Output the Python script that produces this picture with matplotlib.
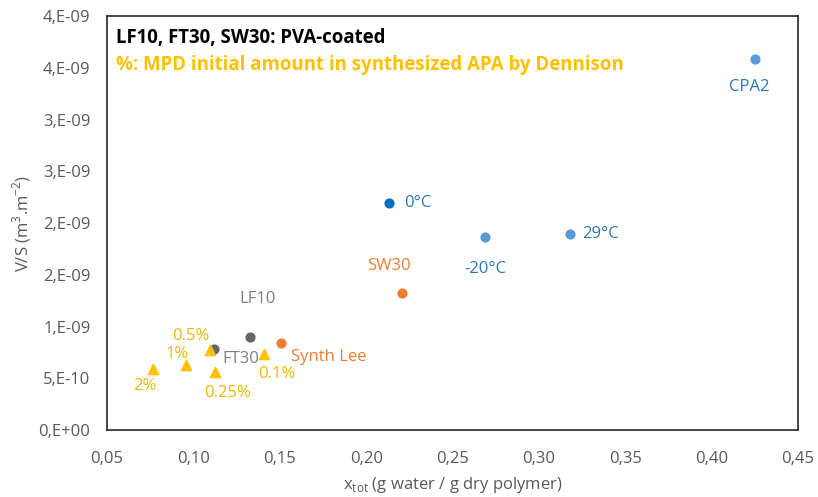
"""Scatter of V/S against x_tot for the coated and synthesized membranes."""
import math

import matplotlib
matplotlib.use('Agg')
import matplotlib.pyplot as plt
from matplotlib.ticker import FuncFormatter

plt.rcParams['font.family'] = ['Open Sans', 'DejaVu Sans']

# CPA2 family (light blue)
cpa_labels = ['CPA2', '-20°C', '29°C']
cpa_x = [0.425, 0.269, 0.318]
cpa_y = [3.58e-9, 1.86e-9, 1.89e-9]

# 0°C point (dark blue)
zero_x = [0.213]
zero_y = [2.19e-9]

# Orange points
orange_labels = ['SW30', 'Synth Lee']
orange_x = [0.221, 0.151]
orange_y = [1.32e-9, 0.84e-9]

# Gray points
gray_labels = ['LF10', 'FT30']
gray_x = [0.133, 0.112]
gray_y = [0.90e-9, 0.78e-9]

# Dennison APA (yellow triangles)
apa_labels = ['2%', '1%', '0.5%', '0.25%', '0.1%']
apa_x = [0.0765, 0.0955, 0.1095, 0.1125, 0.141]
apa_y = [0.59e-9, 0.63e-9, 0.77e-9, 0.56e-9, 0.73e-9]

x_ticks = [0.05, 0.10, 0.15, 0.20, 0.25, 0.30, 0.35, 0.40, 0.45]
y_ticks = [0, 0.5e-9, 1.0e-9, 1.5e-9, 2.0e-9, 2.5e-9, 3.0e-9, 3.5e-9, 4.0e-9]

LIGHT_BLUE = '#5B9BD5'
DARK_BLUE = '#0070C0'
TEXT_BLUE = '#2E75B6'
ORANGE = '#ED7D31'
GRAY = '#666666'
GRAY_TEXT = '#7F7F7F'
YELLOW = '#FFC000'


def excel_sci(v, pos):
    """ Mimic Excel's 0,E+00 number format (round half up). """
    if abs(v) < 1e-20:
        return '0,E+00'
    exp = math.floor(math.log10(abs(v)) + 1e-9)
    mant = int(math.floor(round(v / 10**exp, 6) + 0.5))
    if mant >= 10:
        mant //= 10
        exp += 1
    sign = '+' if exp >= 0 else '-'
    return f'{mant},E{sign}{abs(exp):02d}'


def main():
    fig = plt.figure(figsize=(8.18, 4.97), dpi=100)
    ax = fig.add_axes([0.1308, 0.1348, 0.8448, 0.833])

    ax.scatter(cpa_x, cpa_y, s=40, color=LIGHT_BLUE, zorder=3)
    ax.scatter(zero_x, zero_y, s=40, color=DARK_BLUE, zorder=3)
    ax.scatter(orange_x, orange_y, s=40, color=ORANGE, zorder=3)
    ax.scatter(gray_x, gray_y, s=40, color=GRAY, zorder=3)
    ax.scatter(apa_x, apa_y, s=55, marker='^', color=YELLOW, zorder=3)

    fs = 12
    # Point labels, offsets in points
    offsets = {
        'CPA2': (-4, -20), '-20°C': (0, -23), '29°C': (22, 0),
        'SW30': (-10, 20), 'Synth Lee': (34, -10),
        'LF10': (5, 27), 'FT30': (19, -7),
        '2%': (-6, -12), '1%': (-6, 8), '0.5%': (-14, 10),
        '0.25%': (9, -15), '0.1%': (9, -14),
    }

    def label(names, xs, ys, color):
        for n, x, y in zip(names, xs, ys):
            dx, dy = offsets[n]
            ax.annotate(n, (x, y), xytext=(dx, dy), textcoords='offset points',
                        ha='center', va='center', color=color, fontsize=fs)

    label(cpa_labels, cpa_x, cpa_y, TEXT_BLUE)
    ax.annotate('0°C', (zero_x[0], zero_y[0]), xytext=(21, 0),
                textcoords='offset points', ha='center', va='center',
                color=TEXT_BLUE, fontsize=fs)
    label(orange_labels, orange_x, orange_y, ORANGE)
    label(gray_labels, gray_x, gray_y, GRAY_TEXT)
    label(apa_labels, apa_x, apa_y, '#F2B705')

    ax.text(0.013, 0.947, 'LF10, FT30, SW30: PVA-coated', transform=ax.transAxes,
            fontsize=13.4, fontweight='bold', color='black', va='center')
    ax.text(0.013, 0.882, '%: MPD initial amount in synthesized APA by Dennison',
            transform=ax.transAxes, fontsize=13.4, fontweight='bold',
            color=YELLOW, va='center')

    ax.set_xlim(0.05, 0.45)
    ax.set_ylim(0, 4e-9)
    ax.set_xticks(x_ticks)
    ax.set_yticks(y_ticks)
    ax.xaxis.set_major_formatter(FuncFormatter(lambda v, p: f'{v:.2f}'.replace('.', ',')))
    ax.yaxis.set_major_formatter(FuncFormatter(excel_sci))
    ax.tick_params(length=0, labelsize=12, labelcolor='#595959')
    ax.tick_params(axis='x', pad=15)
    ax.tick_params(axis='y', pad=12)

    for sp in ax.spines.values():
        sp.set_color('#262626')
        sp.set_linewidth(1.2)

    ax.set_xlabel('x$_{\\mathregular{tot}}$ (g water / g dry polymer)',
                  fontsize=12, color='#595959', labelpad=6)
    ax.set_ylabel('V/S (m$^{\\mathregular{3}}$.m$^{\\mathregular{-2}}$)',
                  fontsize=12, color='#595959', labelpad=4)

    fig.savefig('out.png', dpi=100)


if __name__ == '__main__':
    main()
